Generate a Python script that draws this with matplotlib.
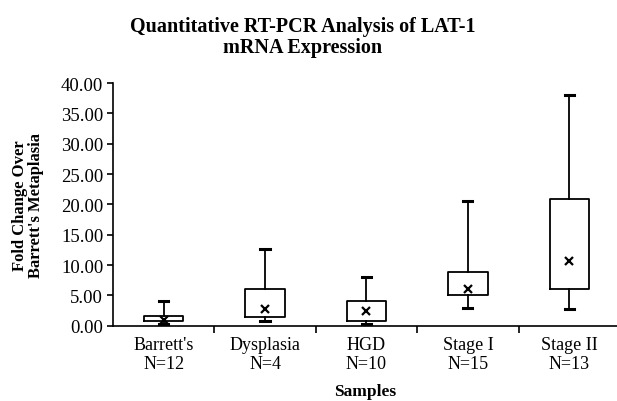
import numpy as np
import matplotlib.pyplot as plt
from matplotlib import rcParams

rcParams['font.family'] = ['Liberation Serif', 'DejaVu Serif']

# data
groups = ["Barrett's\nN=12", "Dysplasia\nN=4", "HGD\nN=10", "Stage I\nN=15", "Stage II\nN=13"]
whislo = [0.3, 0.8, 0.3, 2.9, 2.8]
q1 = [0.8, 1.4, 0.8, 5.1, 6.0]
q3 = [1.6, 6.0, 4.1, 8.8, 20.9]
whishi = [4.1, 12.7, 8.0, 20.6, 38.0]
means = [1.0, 2.7, 2.5, 6.0, 10.6]

stats = []
for i in range(len(groups)):
    stats.append(dict(label=groups[i], whislo=whislo[i], q1=q1[i], med=q1[i],
                      q3=q3[i], whishi=whishi[i], mean=means[i], fliers=[]))

fig = plt.figure(figsize=(6.17, 4.02), dpi=100)
ax = fig.add_axes([0.183, 0.187, 0.817, 0.604])

pos = np.arange(1, len(groups) + 1)
ax.bxp(stats, positions=pos, widths=0.39, showmeans=True, capwidths=0.09,
       boxprops=dict(color='black', linewidth=1.3),
       whiskerprops=dict(color='black', linewidth=1.3),
       capprops=dict(color='black', linewidth=2.2),
       medianprops=dict(linewidth=0),
       meanprops=dict(marker='x', markersize=5.5, markeredgecolor='black',
                      markeredgewidth=1.6))

ax.set_xlim(0.5, 5.47)
ax.set_ylim(0, 40)
ax.set_yticks(np.arange(0, 41, 5))
ax.set_yticklabels(['%.2f' % v for v in np.arange(0, 41, 5)], fontsize=13.5)
ax.set_xticks(pos)
ax.set_xticklabels(groups, fontsize=13, linespacing=1.2)
ax.set_xticks(pos[:-1] + 0.5, minor=True)
ax.tick_params(axis='x', which='major', length=0, pad=7)
ax.tick_params(axis='x', which='minor', length=5, width=1.2, direction='out')
ax.tick_params(axis='y', length=4, width=1.2, direction='out', pad=3)

for s in ['top', 'right']:
    ax.spines[s].set_visible(False)
ax.spines['left'].set_linewidth(1.2)
ax.spines['bottom'].set_linewidth(1.2)

ax.set_ylabel("Fold Change Over\nBarrett's Metaplasia", fontsize=12,
              fontweight='bold', labelpad=12, linespacing=1.05)
ax.set_xlabel('Samples', fontsize=12.5, fontweight='bold', labelpad=8)

fig.text(0.49, 0.958, 'Quantitative RT-PCR Analysis of LAT-1\nmRNA Expression',
         ha='center', va='top', fontsize=14.5, fontweight='bold', linespacing=1.1)

fig.savefig('out.png', dpi=100)
